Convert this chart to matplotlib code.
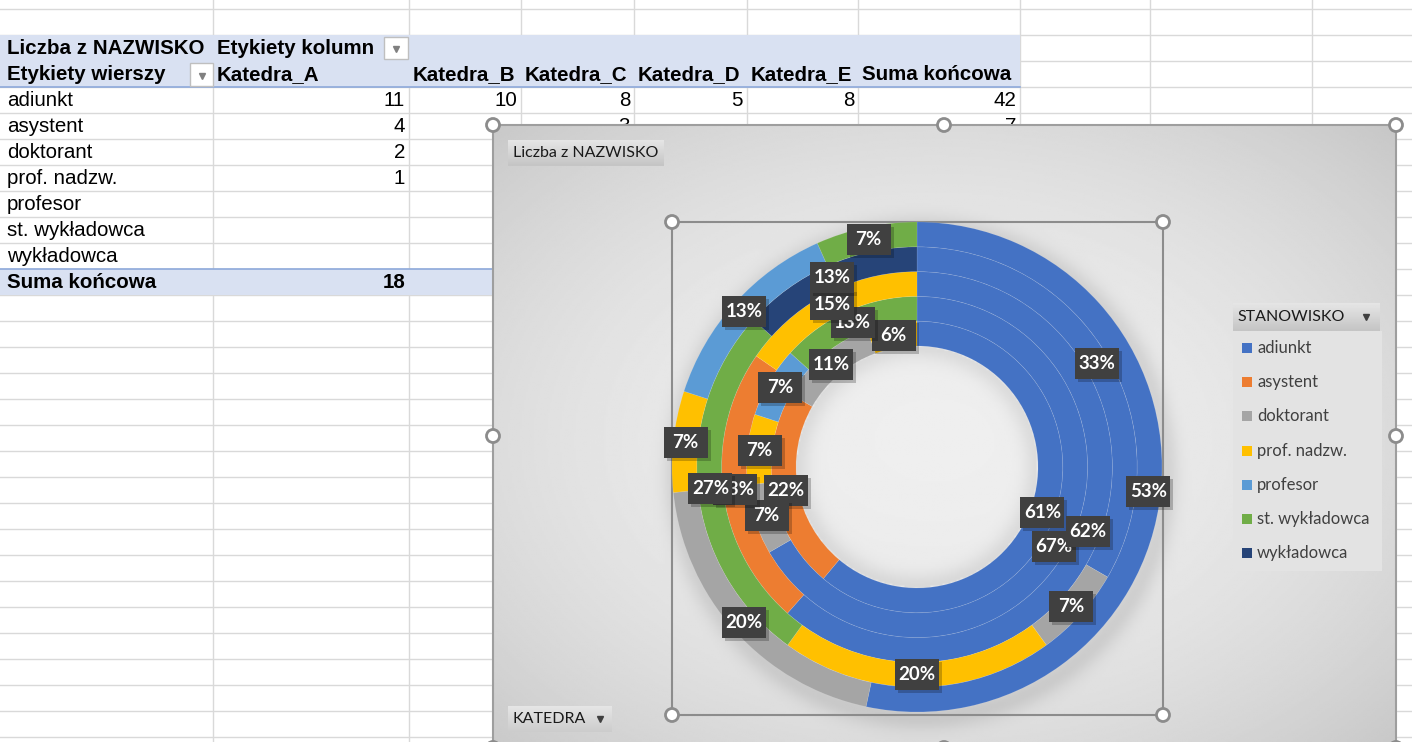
import numpy as np
import matplotlib.pyplot as plt
from matplotlib.patches import Rectangle, Circle

# pivot table data: rows = STANOWISKO, columns = KATEDRA
stanowiska = ['adiunkt', 'asystent', 'doktorant', 'prof. nadzw.', 'profesor',
              'st. wykładowca', 'wykładowca']
katedry = ['Katedra_A', 'Katedra_B', 'Katedra_C', 'Katedra_D', 'Katedra_E']
katedra_a = [11, 4, 2, 1, 0, 0, 0]
katedra_b = [10, 0, 1, 1, 1, 2, 0]
katedra_c = [8, 3, 0, 2, 0, 0, 0]
katedra_d = [5, 0, 1, 3, 0, 4, 2]
katedra_e = [8, 0, 3, 1, 2, 1, 0]
colors = ['#4472C4', '#ED7D31', '#A5A5A5', '#FFC000', '#5B9BD5', '#70AD47', '#264478']

table = np.array([katedra_a, katedra_b, katedra_c, katedra_d, katedra_e]).T

SHEET_FONT = ['Liberation Sans', 'DejaVu Sans']
CHART_FONT = ['Lato', 'DejaVu Sans']

fig = plt.figure(figsize=(14.12, 7.42), dpi=100)
bg = fig.add_axes([0, 0, 1, 1])
bg.set_xlim(0, 1412)
bg.set_ylim(742, 0)
bg.axis('off')

# chart object covers the sheet from here
CHART_X0, CHART_Y0 = 493, 125

# --- spreadsheet grid ---
col_edges = [0, 213, 409, 521, 634, 747, 858, 1020, 1150, 1312, 1412]
row_edges = list(range(9, 742, 26))
for x in col_edges[1:-1]:
    bg.plot([x, x], [0, 742], color='#D9D9D9', lw=1, zorder=1)
for y in row_edges:
    bg.plot([0, 1412], [y, y], color='#D9D9D9', lw=1, zorder=1)

bg.add_patch(Rectangle((0, 35), 1020, 52, fc='#D9E1F2', ec='none', zorder=1.5))
bg.add_patch(Rectangle((0, 269), 1020, 26, fc='#D9E1F2', ec='none', zorder=1.5))
bg.plot([0, 1020], [87, 87], color='#8EA9DB', lw=1.2, zorder=1.6)
bg.plot([0, 1020], [269, 269], color='#8EA9DB', lw=1.2, zorder=1.6)

def sheet_text(x, y, s, bold=False, ha='left'):
    # skip cells that lie completely under the chart object
    if x > CHART_X0 and y - 10 > CHART_Y0:
        return
    bg.text(x, y + 1, s, ha=ha, va='center', fontsize=14.8, family=SHEET_FONT,
            fontweight='bold' if bold else 'normal', color='black', zorder=2)

def dropdown(x0, y0, x1, y1):
    bg.add_patch(Rectangle((x0, y0), x1 - x0, y1 - y0, fc='white', ec='#BFBFBF', lw=1, zorder=1.8))
    bg.plot([(x0 + x1) / 2], [(y0 + y1) / 2 + 1], marker='v', ms=4.5, color='#808080', zorder=1.9)

sheet_text(7, 48, 'Liczba z NAZWISKO', bold=True)
sheet_text(217, 48, 'Etykiety kolumn', bold=True)
dropdown(384, 37, 408, 59)
sheet_text(7, 74, 'Etykiety wierszy', bold=True)
dropdown(190, 63, 213, 86)
col_left = [213, 409, 521, 634, 747, 858]
for x, name in zip(col_left, katedry + ['Suma końcowa']):
    sheet_text(x + 4, 74, name, bold=True)

col_right = [409, 521, 634, 747, 858, 1020]
for i, name in enumerate(stanowiska):
    yc = 100 + 26 * i
    sheet_text(7, yc, name)
    row_vals = list(table[i]) + [table[i].sum()]
    for x, v in zip(col_right, row_vals):
        if v:
            sheet_text(x - 4, yc, str(v), ha='right')
sheet_text(7, 282, 'Suma końcowa', bold=True)
for x, v in zip(col_right, list(table.sum(axis=0)) + [table.sum()]):
    sheet_text(x - 4, 282, str(v), bold=True, ha='right')

# --- chart area with radial gradient ---
cx, cy = 917, 467
R_OUT, R_IN = 245, 121
xs = np.linspace(493, 1396, 450)
ys = np.linspace(125, 742, 320)
X, Y = np.meshgrid(xs, ys)
d = np.sqrt(((X - 935) / 480) ** 2 + ((Y - 440) / 330) ** 2)
v = 0.935 - 0.085 * d ** 2
r = np.sqrt((X - cx - 4) ** 2 + (Y - cy - 6) ** 2)
v -= 0.09 * np.exp(-((r - R_OUT) / 14) ** 2) * (r > R_OUT - 20)
rh = np.sqrt((X - cx) ** 2 + (Y - cy) ** 2)
v -= 0.07 * np.exp(-((R_IN - rh) / 14) ** 2) * (rh < R_IN)
bg.imshow(np.clip(v, 0, 1), extent=(493, 1396, 742, 125), cmap='gray', vmin=0, vmax=1,
          aspect='auto', interpolation='bilinear', zorder=5)
bg.plot([493, 493, 1396, 1396], [760, 125, 125, 760], color='#9E9E9E', lw=1.5, zorder=6)

def grad_rect(x0, y0, x1, y1, top, bottom, z=7):
    g = np.linspace(top, bottom, 40).reshape(-1, 1)
    bg.imshow(g, extent=(x0, x1, y1, y0), cmap='gray', vmin=0, vmax=1,
              aspect='auto', interpolation='bilinear', zorder=z)

def chart_text(x, y, s, size=11.5, color='#1A1A1A'):
    bg.text(x, y, s, ha='left', va='center', fontsize=size, family=CHART_FONT,
            color=color, zorder=8)

# field buttons
grad_rect(508, 140, 664, 166, 0.90, 0.77)
chart_text(513, 153, 'Liczba z NAZWISKO')
grad_rect(508, 706, 612, 732, 0.90, 0.80)
chart_text(513, 719, 'KATEDRA')
bg.plot([600], [719], marker='v', ms=4, color='#404040', zorder=8)

# legend
grad_rect(1233, 303, 1380, 331, 0.90, 0.77)
chart_text(1237, 317, 'STANOWISKO')
bg.plot([1366], [317], marker='v', ms=4, color='#404040', zorder=8)
bg.add_patch(Rectangle((1233, 331), 149, 240, fc='#E3E3E3', ec='none', zorder=7))
for i, (name, c) in enumerate(zip(stanowiska, colors)):
    yc = 348 + 34.2 * i
    bg.add_patch(Rectangle((1242, yc - 5), 10, 10, fc=c, ec='none', zorder=8))
    chart_text(1257, yc, name, size=12, color='#404040')

# plot area frame and selection handles
bg.plot([672, 1163, 1163, 672, 672], [222, 222, 715, 715, 222], color='#8C8C8C', lw=1.5, zorder=9)
handles = [(493, 125), (944, 125), (1396, 125), (493, 436), (1396, 436),
           (493, 748), (944, 748), (1396, 748),
           (672, 222), (1163, 222), (672, 715), (1163, 715)]
for hx, hy in handles:
    bg.add_patch(Circle((hx, hy), 6.5, fc='white', ec='#8C8C8C', lw=2, zorder=10))

# --- doughnut ---
W, H = 1412, 742
ax = fig.add_axes([(cx - R_OUT) / W, (H - cy - R_OUT) / H, 2 * R_OUT / W, 2 * R_OUT / H])
ax.patch.set_alpha(0)
ax.axis('off')

hole = R_IN / R_OUT
width = (1 - hole) / len(katedry)
rings = [katedra_a, katedra_b, katedra_c, katedra_d, katedra_e]
for k, vals in enumerate(rings):
    vals = np.array(vals, dtype=float)
    keep = vals > 0
    r_out = hole + (k + 1) * width
    ax.pie(vals[keep], radius=r_out, startangle=90, counterclock=False,
           colors=[c for c, m in zip(colors, keep) if m],
           wedgeprops=dict(width=width, edgecolor=(1, 1, 1, 0.13), linewidth=0.5))

# data labels: dark boxes of fixed size (in pixels, 1 data unit = R_OUT px)
bw, bh = 44 / R_OUT, 31 / R_OUT
sh = 3 / R_OUT
for k, vals in enumerate(rings):
    vals = np.array(vals, dtype=float)
    fracs = vals / vals.sum()
    r_mid = hole + (k + 0.5) * width
    cum = 0.0
    for f in fracs:
        if f > 0:
            th = np.radians(90 - 360 * (cum + f / 2))
            x, y = r_mid * np.cos(th), r_mid * np.sin(th)
            ax.add_patch(Rectangle((x - bw / 2 + sh, y - bh / 2 - sh), bw, bh, fc='black',
                                   ec='none', alpha=0.22, zorder=20 + 3 * k, clip_on=False))
            ax.add_patch(Rectangle((x - bw / 2, y - bh / 2), bw, bh, fc='#404040',
                                   ec='none', zorder=21 + 3 * k, clip_on=False))
            ax.text(x, y, f'{f * 100:.0f}%', ha='center', va='center', fontsize=13.5,
                    family=CHART_FONT, fontweight='bold', color='white', zorder=22 + 3 * k)
        cum += f

ax.set_xlim(-1, 1)
ax.set_ylim(-1, 1)
bg.set_xlim(0, 1412)
bg.set_ylim(742, 0)

fig.savefig('out.png', dpi=100)
